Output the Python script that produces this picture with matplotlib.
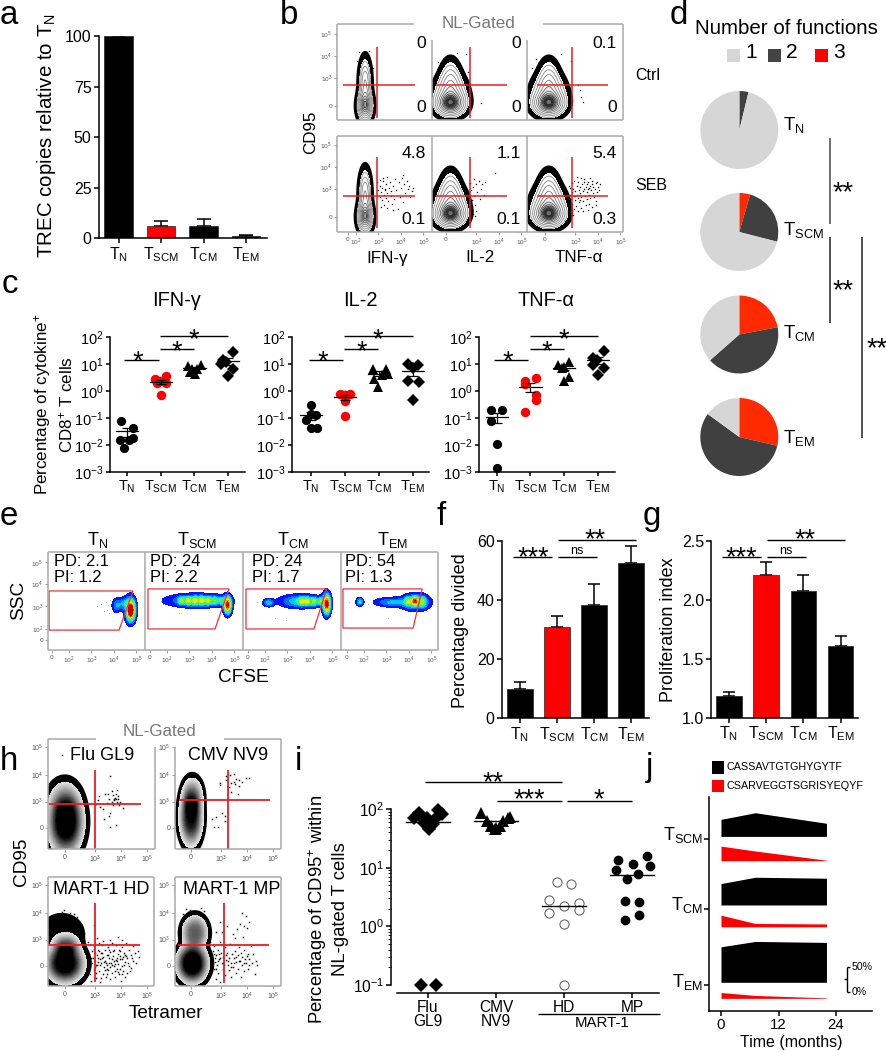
import numpy as np
import matplotlib
matplotlib.use("Agg")
import matplotlib.pyplot as plt
from matplotlib.ticker import NullLocator, FixedLocator, NullFormatter
from matplotlib.patches import Polygon, Rectangle

plt.rcParams.update({
    'font.family': ['Liberation Sans', 'DejaVu Sans'],
    'mathtext.fontset': 'custom', 'mathtext.rm': 'Liberation Sans',
    'mathtext.it': 'Liberation Sans:italic', 'mathtext.bf': 'Liberation Sans:bold',
    'mathtext.default': 'regular',
})
W, H = 887, 1050
PT = 0.72
CATS = ['T$_{N}$', 'T$_{SCM}$', 'T$_{CM}$', 'T$_{EM}$']

# ---- a
a_vals = [100, 6.0, 5.9, 0.9]
a_tops = [100, 8.7, 9.5, 1.5]
# ---- c : values per cytokine, per subset
ifn_tn = [.08, .044, .0149, .0149, .018, .0077]
ifn_scm = [3.5, 2.7, 1.9, 1.9, .7, 2.3]
ifn_cm = [8.2, 8.9, 6.8, 5.1, 4.1, 6.8]
ifn_em = [29, 14.5, 10, 6.8, 3.5, 12]
il2_tn = [.3, .083, .13, .042, .042, .14]
il2_scm = [.75, .8, .7, .42, .116, .7]
il2_cm = [6.4, 6.4, 2.9, 4.4, 1.4, 3.8]
il2_em = [10, 8.9, 7, 2.3, 2.2, .45]
tnf_tn = [.2, .19, .08, .0105, .00135]
tnf_scm = [2.3, 3, 1.8, .7, .45, .17]
tnf_cm = [9, 12, 7.7, 3.3, 2.3, 7.4]
tnf_em = [30, 16, 14, 7.2, 9.5, 3.8]
ifn_means = [.032, 2.2, 7, 13.3]
il2_means = [.125, .6, 4.4, 5.4]
tnf_means = [.11, 1.4, 7.4, 14]
ifn_se = [.012, .45, 1.0, 4]
il2_se = [.04, .13, .9, 1.8]
tnf_se = [.045, .5, 1.5, 4]
# x spread of the swarm, in category units
ifn_off = [[-.17, .17, -.2, .05, .17, -.08], [.15, -.17, -.12, .15, 0, 0],
           [-.2, .2, .07, -.13, .02, -.08], [.14, -.14, -.2, .15, 0, -.05]]
il2_off = [[0, -.16, .16, 0, .17, 0], [-.15, .15, 0, 0, 0, 0],
           [-.17, .2, -.15, .25, -.03, .1], [-.15, .14, 0, -.15, .17, 0]]
tnf_off = [[-.17, .17, -.17, 0, 0], [-.16, .18, -.16, .18, .18, -.16],
           [-.17, .16, 0, .16, 0, -.07], [.17, -.13, -.03, .17, -.15, 0]]
# ---- d
pie_names = CATS
pie_tn = [0.3, 3.5, 96.2]
pie_scm = [4.5, 24.5, 71]
pie_cm = [22, 41.5, 36.5]
pie_em = [28.6, 56.4, 15]
pie_levels = ['3', '2', '1']
# ---- f, g
f_vals = [9.8, 30.8, 38.3, 52.3]
f_tops = [12.2, 34.4, 45.4, 58.3]
g_vals = [1.18, 2.21, 2.07, 1.61]
g_tops = [1.22, 2.32, 2.21, 1.69]
# ---- i
i_flu = [85, 70, 58, 46, 56, 70, 95, 83, 70, 68, .1, .1]
i_flu_off = [-.13, -.21, -.06, .01, .08, -.02, .15, .21, -.09, .1, -.11, .12]
i_cmv = [85, 70, 62, 62, 52, 52, 47, 46, 72]
i_cmv_off = [-.22, .18, -.13, .11, -.08, .06, 0, -.01, .2]
i_hd = [5.8, 5.2, 2.8, 2.5, 2.2, 1.7, 1.9, 1.1, .1]
i_hd_off = [-.11, .11, -.22, .22, 0, -.22, .22, 0, 0]
i_mp = [13.5, 16, 11.7, 9, 10.5, 7.7, 6.4, 2.7, 2.6, 1.55, 1.3]
i_mp_off = [-.21, .22, .01, -.24, .26, .09, -.07, -.1, .11, .11, -.1]
i_means = [60, 62, 2.2, 7.5]
i_labels = ['Flu\nGL9', 'CMV\nNV9', 'HD', 'MP']
# ---- j
j_months = [0, 7.15, 22]
j_scm_k = [35, 48.6, 27]
j_scm_r = [30, 20, 1]
j_cm_k = [44, 57, 55]
j_cm_r = [24, 7, 6]
j_em_k = [73, 84, 82]
j_em_r = [12, 6, 1]
j_seq = ['CASSAVTGTGHYGYTF', 'CSARVEGGTSGRISYEQYF']
# ---- flow cytometry: density peaks (u, v, su, sv, amp) and event dots, in display decades
NARROW = [(.76, 0.0, .19, .38, 1), (.76, 1.05, .16, .62, .55)]
WIDE2 = [(.2, 0.1, .37, .3, 1), (.2, .55, .42, .5, .5), (.2, 1.2, .27, .55, .3)]
WIDE3 = [(.17, 0.1, .39, .3, 1), (.17, .55, .44, .5, .5), (.17, 1.2, .28, .55, .3)]
B_GATE_X = [1.29, 1.07, 1.2]
B_GATE_Y = .93
B_H_RANGE = [(-.22, 2.98), (-.44, 2.71), (-.36, 2.8)]
b_numbers = [['0', '0', '0.1'], ['0', '0', '0'], ['4.8', '1.1', '5.4'], ['0.1', '0.1', '0.3']]
DOT_CTRL = [[(.5, 2.4), (.95, 2.45), (1.1, 1.7), (.4, 2.0)],
            [(1.55, .12), (.9, 2.3), (-.35, 1.95), (.5, 2.35), (1.0, 1.5)],
            [(1.45, .95), (1.55, .72), (1.6, .42), (1.7, .2), (1.15, 2.0), (.7, 2.3), (-.4, 2.1), (-.6, 1.7)]]
DOT_SEB1 = [(1.3, 1.55), (1.35, 1.2), (1.4, .9), (1.42, 1.4), (1.47, 1.1), (1.5, .75), (1.52, 1.3), (1.55, 1.6),
            (1.58, 1.0), (1.6, .55), (1.63, 1.25), (1.67, .85), (1.7, 1.45), (1.72, 1.05), (1.75, .4), (1.78, .7),
            (1.8, 1.3), (1.85, 1.55), (1.9, .95), (1.93, 1.15), (1.97, .6), (2.0, 1.4), (2.05, .8), (2.1, 1.7),
            (2.15, 1.2), (2.2, .35), (2.25, 1.55), (2.3, .9), (2.35, 1.3), (2.4, 1.75), (2.45, .65), (2.5, 1.45),
            (2.55, 1.05), (2.6, 1.6), (2.65, 1.25), (2.7, 1.4), (2.75, .9), (2.85, 1.15), (2.9, 1.3), (2.45, 1.85),
            (1.45, .45), (1.55, 1.75), (1.75, 1.8), (2.0, .3), (1.65, 1.2), (1.4, 1.65)]
DOT_SEB2 = [(1.05, 1.5), (1.1, 1.2), (1.15, .75), (1.2, 1.35), (1.25, .95), (1.3, .55), (1.15, .3), (1.2, .15),
            (1.3, .05), (1.35, .25), (1.4, 1.1), (1.45, 1.6), (1.5, .8), (1.55, 1.25), (1.6, 1.45), (1.7, 1.0),
            (1.75, 1.55), (2.2, 1.95), (1.25, 1.7), (1.35, 1.45)]
DOT_SEB3 = [(1.1, 1.0), (1.12, 1.3), (1.15, .8), (1.18, 1.5), (1.2, 1.1), (1.22, .6), (1.25, 1.25), (1.28, .95),
            (1.3, 1.6), (1.32, .75), (1.35, 1.15), (1.38, .5), (1.4, 1.4), (1.42, 1.0), (1.45, .85), (1.47, 1.55),
            (1.5, 1.2), (1.52, .65), (1.55, 1.35), (1.57, 1.05), (1.6, .4), (1.62, .9), (1.65, 1.45), (1.67, 1.15),
            (1.7, .7), (1.72, 1.7), (1.75, 1.25), (1.77, .95), (1.8, .55), (1.82, 1.35), (1.85, 1.1), (1.87, .8),
            (1.9, 1.55), (1.92, 1.25), (1.95, .6), (1.97, 1.0), (2.0, 1.4), (2.02, .85), (2.05, 1.2), (2.08, 1.6),
            (2.1, .45), (2.12, 1.05), (2.15, 1.35), (2.18, .9), (2.2, 1.25), (2.25, 1.5), (2.28, .7), (2.3, 1.1),
            (2.35, 1.35), (2.4, 1.2), (2.45, 1.45), (2.0, 1.75), (1.6, 1.75), (1.3, .35), (1.45, .25), (1.7, .25),
            (1.9, .3), (2.25, .55), (1.4, 1.8), (1.15, .2), (1.25, .1), (1.05, 1.4), (1.08, .55), (1.55, .75),
            (1.75, 1.55), (1.85, 1.45), (1.95, 1.3), (2.1, 1.45), (2.3, 1.55), (1.35, .95)]
# e
E_ZERO = [52, 150, 248, 347]
E_GATES = [[(-.13, 2.18), (3.6, 2.18), (2.98, .44), (-.13, .44)], [(-.09, 2.27), (3.51, 2.27), (2.89, .49), (-.09, .49)],
           [(-.09, 2.27), (3.5, 2.27), (2.93, .49), (-.09, .49)], [(-.18, 2.27), (3.34, 2.27), (2.94, .53), (-.18, .53)]]
E_PEAKS = [
    [(3.5, 1.3, .11, .27, .95), (3.48, 1.4, .15, .33, .25), (2.87, 1.52, .12, .18, .16), (3.2, 1.62, .2, .16, .2)],
    [(2.1, 1.75, .78, .17, .3), (1.41, 1.75, .09, .11, .36), (1.7, 1.75, .09, .11, .38), (2.0, 1.75, .09, .11, .38),
     (2.3, 1.75, .09, .11, .38), (2.59, 1.75, .09, .11, .36), (2.89, 1.75, .09, .11, .3), (3.19, 1.75, .09, .11, .3),
     (3.45, 1.55, .1, .23, .9)],
    [(.92, 1.66, .14, .1, .25), (2.35, 1.72, .55, .17, .3), (2.39, 1.72, .09, .11, .34), (2.63, 1.72, .09, .11, .38),
     (2.93, 1.72, .09, .11, .38), (3.23, 1.72, .09, .11, .38), (3.5, 1.6, .1, .27, .95)],
    [(.57, 1.69, .09, .1, .3), (3.05, 1.68, .38, .21, .3), (2.0, 1.68, .45, .12, .22), (2.72, 1.72, .1, .13, .33),
     (3.02, 1.74, .09, .13, .62), (3.36, 1.7, .1, .15, .35)],
]
E_GREY = [[(2.0, 1.5), (2.2, 1.6), (2.4, 1.7), (2.45, 1.35), (2.5, 1.55), (2.55, 1.2), (2.6, 1.8), (2.3, 1.3)],
          [(.5, 1.75), (.6, 1.6), (1.3, 1.2), (3.0, .95)], [(.4, 1.7), (1.2, 1.0), (1.7, .9)], [(.1, 1.7), (.95, 1.6), (1.8, 1.0)]]
e_titles = CATS
e_text = [('PD: 2.1', 'PI: 1.2'), ('PD: 24', 'PI: 2.2'), ('PD: 24', 'PI: 1.7'), ('PD: 54', 'PI: 1.3')]
# h
H_FLU = [(.03, .25, .44, .8, 1), (-.05, 1.1, .42, .5, .1)]
H_CMV = [(0, .42, .28, .68, 1), (.05, 1.15, .26, .48, .45)]
H_HD = [(0, .1, .48, .48, 1), (.05, .75, .34, .28, .45), (-.12, 1.2, .58, .52, .06)]
H_MP = [(.05, .1, .39, .48, 1), (.15, 1.25, .32, .42, .5)]
H_DOTS_FLU = [(-.12, 2.75), (1.2, .9), (1.3, 1.2), (1.45, .7), (1.55, 1.3), (1.6, .95), (1.7, 1.1), (1.75, .55), (1.8, 1.4),
              (1.85, 1.25), (1.9, 1.05), (1.92, 1.15), (1.95, 1.1), (1.98, 1.3), (2.0, 1.45), (2.02, 1.1), (2.05, 1.2),
              (2.08, .85), (2.1, 1.0), (1.85, .85), (1.7, .45), (1.5, .35), (1.35, .8), (1.28, 1.05), (1.75, .05),
              (1.95, .1), (1.72, 1.98), (1.65, 1.3), (1.88, 1.1), (2.0, 1.0), (1.8, 1.0), (1.6, -.85), (2.25, .75)]
H_DOTS_CMV = [(1.1, 1.7), (1.35, 1.95), (1.5, 2.0), (1.35, 1.8), (1.45, 1.55), (1.55, 1.7), (1.65, 1.75), (1.75, 1.85),
              (1.85, 1.8), (1.95, 1.75), (2.1, 1.9), (1.85, 1.6), (1.7, 1.65), (1.55, 1.35), (1.8, 1.3), (1.2, .55),
              (1.3, .45), (1.3, .25), (.95, .42), (.9, .02), (1.02, .02), (.82, .35), (1.1, 1.62), (1.65, 2.05), (2.25, 1.9)]
H_DOTS_HD = [(.9, .9), (1.0, .3), (1.05, .55), (1.1, -.1), (1.12, .75), (1.15, .2), (1.2, -.45), (1.22, .4), (1.25, .05),
             (1.28, .62), (1.3, -.2), (1.33, .25), (1.35, -.6), (1.38, .48), (1.4, .12), (1.42, .8), (1.45, -.3), (1.47, .35),
             (1.5, -.05), (1.52, .6), (1.55, .2), (1.57, -.4), (1.6, .42), (1.62, .05), (1.65, .72), (1.67, -.15), (1.7, .3),
             (1.72, -.5), (1.75, .52), (1.77, .12), (1.8, .88), (1.82, -.25), (1.85, .38), (1.87, 0), (1.9, .62), (1.92, -.42),
             (1.95, .22), (1.97, .78), (2.0, -.1), (2.02, .45), (2.05, .08), (2.08, -.3), (2.1, .55), (2.12, .25), (2.15, -.55),
             (2.18, .7), (2.2, 0), (2.22, .35), (2.25, -.18), (2.28, .5), (2.3, .15), (2.35, .85), (2.38, -.28), (2.4, .3),
             (2.45, .62), (2.48, 0), (2.52, .42), (2.55, -.08), (2.6, .75), (2.62, .2), (2.7, .5), (2.75, .1), (2.8, .55),
             (2.85, .35), (1.1, 1.55), (1.25, 1.05), (1.45, .95), (1.75, 1.0), (2.05, 1.1), (2.2, .98), (.95, -.3), (1.0, -.55),
             (1.02, .1), (1.15, .48), (1.3, .85), (1.4, -.45), (1.6, -.3), (1.68, .1), (1.9, .18), (2.02, -.22), (2.3, -.42),
             (1.08, .32), (1.18, .05), (1.27, .3), (1.36, .02), (1.44, .5), (1.53, -.15), (1.59, .1), (1.66, .42), (1.73, -.05),
             (1.79, .25), (1.86, .55), (1.93, .08), (1.99, .32), (2.07, .6), (2.13, -.1), (2.19, .28), (2.27, .05), (2.34, .38),
             (1.11, .65), (1.21, -.25), (1.31, .55), (1.41, .3), (1.51, .15), (1.61, -.12), (1.71, .62), (1.81, .05), (1.91, -.2),
             (2.01, .18), (2.11, .38), (2.21, -.3), (2.31, .42), (2.41, .1), (2.51, -.2), (2.59, .3), (1.16, -.05), (1.26, .15)]
H_DOTS_MP = [(.75, .9), (.8, .3), (.85, .55), (.88, -.1), (.9, .75), (.92, .15), (.95, -.5), (.97, .42), (1.0, .02),
             (1.02, .62), (1.05, -.25), (1.08, .25), (1.1, .9), (1.12, -.6), (1.15, .48), (1.18, .12), (1.2, 1.3), (1.22, -.1),
             (1.25, .35), (1.28, .02), (1.3, .7), (1.32, -.35), (1.35, .22), (1.38, .5), (1.4, 1.5), (1.42, .05), (1.45, -.15),
             (1.48, .32), (1.5, .82), (1.52, -.42), (1.55, .12), (1.58, .45), (1.6, 1.2), (1.62, -.05), (1.65, .3), (1.68, 1.05),
             (1.7, .55), (1.72, -.28), (1.75, .15), (1.78, 1.4), (1.8, .4), (1.82, -.12), (1.85, .7), (1.88, .2), (1.9, 1.6),
             (1.92, -.4), (1.95, .05), (1.98, .35), (2.0, 1.1), (2.02, .6), (2.05, -.2), (2.08, .28), (2.1, 1.9), (2.12, .12),
             (2.15, 1.45), (2.18, .45), (2.2, -.1), (2.22, 1.65), (2.25, .25), (2.3, .75), (2.35, .1), (2.4, .45), (2.45, -.3),
             (2.5, .2), (2.55, .05), (1.95, 2.0), (2.05, 1.5), (.4, 2.2), (-.2, 2.15), (.5, 2.08), (.95, 1.3), (1.1, 1.65),
             (.82, .1), (.93, .3), (1.03, .18), (1.13, .3), (1.24, .12), (1.34, .42), (1.44, .2), (1.54, -.02), (1.64, .12),
             (1.74, .35), (1.84, .2), (1.94, .5), (2.04, .1), (2.14, .38), (2.24, .02), (.87, .45), (.98, -.1), (1.07, .45)]
H_EDGE = [(-.3, 1.95), (-.1, 2.05), (.2, 2.0), (.45, 1.85), (.6, 1.6), (.75, 1.25), (-.05, 2.12), (.35, 1.95)]
h_titles = ['Flu GL9', 'CMV NV9', 'MART-1 HD', 'MART-1 MP']

fig = plt.figure(figsize=(W / 100, H / 100), dpi=100)
ov = fig.add_axes([0, 0, 1, 1], zorder=20)
ov.set_xlim(0, W); ov.set_ylim(H, 0); ov.axis('off'); ov.patch.set_alpha(0)


def T(x, y, s, px, ha='center', va='center', **kw):
    return ov.text(x, y, s, fontsize=px * PT, ha=ha, va=va, **kw)


def L(x0, y0, x1, y1, c='k', lw=1.0, **kw):
    ov.plot([x0, x1], [y0, y1], color=c, lw=lw, solid_capstyle='butt', **kw)


def stars(x, y, n, px=27):
    T(x, y + px * .58 - 1, '*' * n, px, va='baseline')


def pxax(x0, x1, y0, y1):
    return fig.add_axes([x0 / W, 1 - y1 / H, (x1 - x0) / W, (y1 - y0) / H])


def clean(ax, lab_px, lw=1.1, ticklen=3.6):
    ax.spines['top'].set_visible(False); ax.spines['right'].set_visible(False)
    for s in ('left', 'bottom'):
        ax.spines[s].set_linewidth(lw)
    ax.tick_params(axis='both', labelsize=lab_px * PT, width=lw, length=ticklen, pad=1.5, colors='k')
    ax.patch.set_alpha(0)


def bars(x0, x1, y0, y1, c0, sp, vals, tops, ylim, yt, ytl, lab_px, cap, width):
    ax = pxax(x0, x1, y0, y1)
    ax.set_xlim((x0 - c0) / sp, (x1 - c0) / sp); ax.set_ylim(*ylim)
    xs = np.arange(len(vals))
    cols = ['k', '#ff0000', 'k', 'k']
    ax.bar(xs, vals, width=width, color=cols, edgecolor='#222222', linewidth=.5, zorder=2)
    ax.errorbar(xs, vals, yerr=[np.zeros(4), np.array(tops) - np.array(vals)], fmt='none', ecolor='k',
                elinewidth=1.1, capsize=cap, capthick=1.1, zorder=1)
    ax.set_xticks(xs); ax.set_xticklabels(CATS)
    ax.set_yticks(yt); ax.set_yticklabels(ytl)
    clean(ax, lab_px)
    return ax


# ===== a
bars(98.7, 267, 36, 238.3, 118.7, 42.4, a_vals, a_tops, (0, 100), [0, 25, 50, 75, 100],
     ['0', '25', '50', '75', '100'], 16, 5, .67)
T(47, 136, 'TREC copies relative to T$_{N}$', 20.5, rotation=90)

# ===== f, g
bars(501.7, 649, 540.7, 718.3, 520, 37, f_vals, f_tops, (0, 60), [0, 20, 40, 60], ['0', '20', '40', '60'], 16, 4.6, .69)
T(461, 631, 'Percentage divided', 18, rotation=90)
L(513, 557, 552, 557); stars(533, 551, 3)
L(558, 557, 597, 557); T(577, 551, 'ns', 12.5)
L(558, 540, 636, 540); stars(595, 533, 2)

bars(711, 858, 540.7, 717.7, 729, 37.2, np.array(g_vals) , g_tops, (1.0, 2.5), [1, 1.5, 2, 2.5],
     ['1.0', '1.5', '2.0', '2.5'], 16, 4.6, .69)
T(669, 630, 'Proliferation index', 18, rotation=90)
L(722, 557, 761, 557); stars(741, 551, 3)
L(767, 557, 806, 557); T(786, 551, 'ns', 12.5)
L(767, 540, 845, 540); stars(805, 533, 2)


# ===== c
def swarm(x0, x1, c0, sp, groups, offs, means, se):
    ax = pxax(x0, x1, 337, 472)
    ax.set_yscale('log'); ax.set_ylim(1e-3, 1e2)
    ax.set_xlim((x0 - c0) / sp, (x1 - c0) / sp)
    styles = [('o', 'k', 6.6), ('o', '#ff0000', 6.8), ('^', 'k', 7.4), ('D', 'k', 5.7)]
    for i, (vals, off) in enumerate(zip(groups, offs)):
        m, c, s = styles[i]
        ax.plot(i + np.array(off), vals, m, color=c, ms=s, mew=0, ls='none', clip_on=False, zorder=3)
        ax.plot([i - .33, i + .33], [means[i]] * 2, color='k', lw=.9, zorder=4)
        ax.errorbar([i], [means[i]], yerr=[[se[i]], [se[i]]], fmt='none', ecolor='k', elinewidth=.9, capsize=3.4,
                    capthick=.9, zorder=4)
    ax.set_xticks(range(4)); ax.set_xticklabels(CATS)
    ax.set_yticks([1e-3, 1e-2, 1e-1, 1, 10, 100])
    ax.set_yticklabels(['$10^{-3}$', '$10^{-2}$', '$10^{-1}$', '$10^{0}$', '$10^{1}$', '$10^{2}$'])
    ax.yaxis.set_minor_locator(NullLocator())
    clean(ax, 14.5, ticklen=3.2)
    return ax


swarm(110, 245, 127, 33.7, [ifn_tn, ifn_scm, ifn_cm, ifn_em], ifn_off, ifn_means, ifn_se)
swarm(292, 429, 311, 34, [il2_tn, il2_scm, il2_cm, il2_em], il2_off, il2_means, il2_se)
swarm(479.3, 615, 496.7, 33.7, [tnf_tn, tnf_scm, tnf_cm, tnf_em], tnf_off, tnf_means, tnf_se)
for (a, b_, c, d, s1, s2, s3) in [(124, 159, 160, 228, 138, 177, 194), (309, 343, 344, 413, 323, 362, 378),
                                  (494, 528, 530, 598, 508, 547, 564)]:
    L(a, 360, b_, 360); stars(s1, 355, 1)
    L(c, 349, (c + d) / 2, 349); stars(s2, 345, 1)
    L(c, 336, d, 336); stars(s3, 333, 1)
T(177, 301, 'IFN-γ', 20); T(360, 301, 'IL-2', 20); T(546, 301, 'TNF-α', 20)
T(43, 404, 'Percentage of cytokine$^{+}$', 17, rotation=90)
T(66, 405, 'CD8$^{+}$ T cells', 17, rotation=90)

# ===== d
PIE_COL = {'1': '#d6d6d6', '2': '#404040', '3': '#ff2a00'}
for (cy, vals, name, by) in [(130, pie_tn, CATS[0], 130), (232, pie_scm, CATS[1], 235),
                             (334.5, pie_cm, CATS[2], 338), (437, pie_em, CATS[3], 443)]:
    ax = pxax(739.3 - 39, 739.3 + 39, cy - 39, cy + 39)
    ax.pie(vals, colors=[PIE_COL[k] for k in pie_levels], startangle=90, counterclock=False, radius=1,
           wedgeprops=dict(linewidth=0))
    ax.set_xlim(-1, 1); ax.set_ylim(-1, 1)
    T(783, by, name, 18.5, ha='left', va='baseline')
T(786, 29, 'Number of functions', 20.5)
for (sx, tx, k, c) in [(727, 745, '1', PIE_COL['1']), (768, 786, '2', '#444444'), (815, 833, '3', '#ff0000')]:
    ov.add_patch(Rectangle((sx, 49), 13, 13, color=c, lw=0))
    T(tx, 53, k, 21, ha='left')
L(830, 138, 830, 224, c='#555555', lw=1.2); stars(843, 186, 2)
L(830, 237, 830, 323, c='#333333', lw=1.2); stars(843, 284, 2)
L(862, 237, 862, 438, c='#333333', lw=1.2); stars(877, 342, 2)


# ===== flow helpers
def density(U, V, peaks, p=1.0):
    D = np.zeros_like(U)
    for (u, v, su, sv, amp) in peaks:
        r2 = ((U - u) / su) ** 2 + ((V - v) / sv) ** 2
        D += amp * np.exp(-.5 * r2 ** p)
    return D


def fax(x0, x1, y0, y1, zx, zy, dx, dy):
    ax = pxax(x0, x1, y0, y1)
    ax.set_xlim((x0 - zx) / dx, (x1 - zx) / dx); ax.set_ylim((zy - y1) / dy, (zy - y0) / dy)
    for s in ax.spines.values():
        s.set_visible(False)
    ax.patch.set_alpha(0)
    return ax


def grid(ax, n=260):
    xa = np.linspace(*ax.get_xlim(), n); ya = np.linspace(*ax.get_ylim(), n)
    return np.meshgrid(xa, ya)


def decade_minor(ticks):
    out = []
    for t in ticks:
        out += list(t + np.log10(np.arange(2, 10)))
    return out


def ticks(ax, xt=None, xl=None, yt=None, yl=None, px=7):
    ax.tick_params(axis='both', which='major', length=2, width=.5, color='#777777', labelcolor='#555555',
                   labelsize=px * PT, pad=1.5)
    ax.tick_params(axis='both', which='minor', length=1, width=.35, color='#888888')
    if xt is not None:
        ax.set_xticks(xt); ax.set_xticklabels(xl)
        ax.xaxis.set_minor_locator(FixedLocator([m for m in decade_minor(xt[-4:-1]) if m < ax.get_xlim()[1]]))
    else:
        ax.set_xticks([])
    if yt is not None:
        ax.set_yticks(yt); ax.set_yticklabels(yl)
        ax.yaxis.set_minor_locator(FixedLocator([m for m in decade_minor(yt[-3:-1]) if m < ax.get_ylim()[1]]))
    else:
        ax.set_yticks([])


def dots(ax, pts, ms=1.3, c='k'):
    if len(pts):
        xs, ys = zip(*pts)
        ax.plot(xs, ys, 's', ms=ms * PT, color=c, mew=0, ls='none', zorder=5)


GATE = '#ee1c25'


def cross(ax, xv, yh, xr, yr, lw=1.1):
    ax.plot(xr, [yh, yh], color=GATE, lw=lw, zorder=7, solid_capstyle='butt')
    ax.plot([xv, xv], yr, color=GATE, lw=lw, zorder=7, solid_capstyle='butt')


# ===== b
B_COL = [(337, 432, 348), (432, 527, 446), (527, 623, 545)]
B_ROW = [(24, 120, 106, (-.53, 2.62)), (136, 232, 217, (-.49, 2.67))]
B_SHAPES = [NARROW, WIDE2, WIDE3]
B_DOTS = [DOT_CTRL, [DOT_SEB1, DOT_SEB2, DOT_SEB3]]
GXT = [0, 1.35, 2.35, 3.35]
GXL = ['0', '$10^{3}$', '$10^{4}$', '$10^{5}$']
GYT = [0, 1.24, 2.22, 3.22]
GYL = ['0', '$10^{3}$', '$10^{4}$', '$10^{5}$']
for r, (y0, y1, zy, vr) in enumerate(B_ROW):
    for c, (x0, x1, zx) in enumerate(B_COL):
        ax = fax(x0, x1, y0, y1, zx, zy, 22.5, 22.5)
        U, V = grid(ax)
        D = density(U, V, B_SHAPES[c])
        ax.contourf(U, V, D, [.05, .12], colors='k', zorder=1)
        ax.contour(U, V, D, [.05], colors='k', linewidths=1.3, zorder=1)
        ax.contourf(U, V, D, [.7, .95, 1.1, 1.22, 3], colors=['#ececec', '#d0d0d0', '#a8a8a8', '#6e6e6e'], zorder=1)
        ax.contour(U, V, D, [.18, .28, .4, .55, .7, .85, .98, 1.08, 1.16, 1.23, 1.29, 1.33],
                   colors=['#888888', '#888888', '#808080', '#777777', '#666666', '#555555', '#444444', '#333333',
                           '#333333', '#222222', '#222222', '#222222'], linewidths=.6, zorder=2)
        dots(ax, B_DOTS[r][c])
        cross(ax, B_GATE_X[c], B_GATE_Y, B_H_RANGE[c], vr)
        if c == 0:
            xt, xl = ([0, .35] + GXT[1:], ['0', '$10^{2}$'] + GXL[1:])
        else:
            xt, xl = GXT, GXL
        ticks(ax, xt if r == 1 else None, xl if r == 1 else None, GYT if c == 0 else None, GYL if c == 0 else None, 6.5)
        tx = [426, 521, 617][c]
        T(tx, [43, 153][r], b_numbers[2 * r][c], 17.5, ha='right')
        T(tx, [108, 220][r], b_numbers[2 * r + 1][c], 17.5, ha='right')
G = '#aaaaaa'
L(337, 24, 414, 24, G, 1.1); L(543, 24, 623, 24, G, 1.1)
L(337, 24, 337, 120, G, 1.1); L(623, 24, 623, 120, G, 1.1); L(337, 120, 623, 120, G, 1.1)
L(432, 40, 432, 120, G, 1.1); L(527, 40, 527, 120, G, 1.1)
for seg in [(337, 136, 623, 136), (337, 232, 623, 232), (337, 136, 337, 232), (623, 136, 623, 232),
            (432, 136, 432, 232), (527, 136, 527, 232)]:
    L(*seg, G, 1.1)
T(479, 23, 'NL-Gated', 17, color='#777777')
T(635, 76, 'Ctrl', 16, ha='left'); T(635, 186, 'SEB', 16, ha='left')
T(311, 132, 'CD95', 17, rotation=90)
T(387, 258, 'IFN-γ', 17); T(480, 258, 'IL-2', 17); T(579, 258, 'TNF-α', 17)

# ===== e
E_LEVELS = [.04, .12, .2, .28, .38, .48, .58, .68, .8, .9, 3]
E_COLS = ['#0a14ff', '#0070ff', '#00c8ff', '#20f0c0', '#40f060', '#a0f020', '#f8e800', '#ff9000', '#ff2000', '#c80000']
E_COLX = [(48, 145), (145, 243), (243, 341), (341, 438)]
for i, (x0, x1) in enumerate(E_COLX):
    ax = fax(x0, x1, 552, 650, E_ZERO[i], 640, 22.5, 22.5)
    U, V = grid(ax, 320)
    ax.contourf(U, V, density(U, V, E_PEAKS[i]), E_LEVELS, colors=E_COLS, zorder=2)
    dots(ax, E_GREY[i], ms=1.0, c='#aaaaaa')
    ax.add_patch(Polygon(E_GATES[i], closed=True, fill=False, edgecolor='#f0303a', lw=.9, zorder=6))
    ticks(ax, [0, .75, 1.75, 2.75, 3.75], ['0', '$10^{2}$', '$10^{3}$', '$10^{4}$', '$10^{5}$'],
          [0, .5, 1.5, 2.5, 3.45] if i == 0 else None,
          ['0', '$10^{2}$', '$10^{3}$', '$10^{4}$', '$10^{5}$'] if i == 0 else None, 6.5)
    T([54, 150, 252, 345][i], 562, e_text[i][0], 16.5, ha='left')
    T([54, 150, 252, 345][i], 577, e_text[i][1], 16.5, ha='left')
    T([98, 197, 293, 392][i], 540, e_titles[i], 18)
for seg in [(48, 552, 438, 552), (48, 650, 438, 650), (48, 552, 48, 650), (438, 552, 438, 650),
            (145, 552, 145, 650), (243, 552, 243, 650), (341, 552, 341, 650)]:
    L(*seg, G, 1.1)
T(19, 600, 'SSC', 19, rotation=90); T(243, 678, 'CFSE', 19)

# ===== h
H_AX = [(48, 155, 739, 849, 65, 828), (175, 281, 739, 849, 191, 828), (48, 154, 877, 986, 65, 966), (175, 281, 877, 986, 191, 966)]
H_PK = [H_FLU, H_CMV, H_HD, H_MP]
H_DOTS = [H_DOTS_FLU, H_DOTS_CMV, H_DOTS_HD, H_DOTS_MP]
H_CROSS = [((95 - 65) / 26, (828 - 804) / 26.5, (-.62, 2.92), (-.79, 2.19)),
           ((228 - 191) / 26, (828 - 800) / 26.5, (-.46, 3.04), (-.79, 2.19)),
           ((95 - 65) / 26, (966 - 945) / 26.5, (-.62, 2.88), (-.6, 2.38)),
           ((224 - 191) / 26, (966 - 945) / 26.5, (-.5, 3.0), (-.64, 2.38))]
for i, (x0, x1, y0, y1, zx, zy) in enumerate(H_AX):
    ax = fax(x0, x1, y0, y1, zx, zy, 26, 26.5)
    U, V = grid(ax, 300)
    D = density(U, V, H_PK[i], p=1.5)
    ax.contourf(U, V, D, [.012, .08], colors='k', zorder=1)
    ax.contour(U, V, D, [.012], colors='k', linewidths=1.4, zorder=1)
    lev = np.linspace(.08, max(D.max(), .5), 30)
    ax.contourf(U, V, D, lev, cmap='gray_r', vmin=-.02, vmax=D.max() * .8, zorder=2)
    dots(ax, H_DOTS[i], ms=1.5)
    if i >= 2:
        dots(ax, H_EDGE, ms=1.5)
    xv, yh, xr, yr = H_CROSS[i]
    cross(ax, xv, yh, xr, yr, lw=1.3)
    ticks(ax, [0, 1.15, 2.15, 3.15], ['0', '$10^{3}$', '$10^{4}$', '$10^{5}$'], [0, 1, 2, 3.05],
          ['0', '$10^{3}$', '$10^{4}$', '$10^{5}$'], 7)
    T([102, 228, 101, 232][i], [755, 755, 890, 890][i], h_titles[i], 18)
for seg in [(48, 739, 96, 739), (224, 739, 281, 739), (48, 739, 48, 849), (48, 849, 155, 849), (155, 747, 155, 849),
            (175, 747, 175, 849), (175, 849, 281, 849), (281, 739, 281, 849),
            (48, 877, 154, 877), (48, 986, 154, 986), (48, 877, 48, 986), (154, 877, 154, 986),
            (175, 877, 281, 877), (175, 986, 281, 986), (175, 877, 175, 986), (281, 877, 281, 986)]:
    L(*seg, G, 1.1)
T(160, 731, 'NL-Gated', 17, color='#777777')
T(22, 862, 'CD95', 19, rotation=90); T(166, 1014, 'Tetramer', 19)

# ===== i
ax = pxax(391, 659, 809, 993)
ax.set_yscale('log')
ax.set_ylim(10 ** (-1 - 8 / 58.7), 100)
ax.set_xlim((391 - 428) / 68, (659 - 428) / 68)
for i, (vals, off, m, fc, ec, s, mw) in enumerate([
        (i_flu, i_flu_off, 'D', 'k', 'k', 6.8, 0), (i_cmv, i_cmv_off, '^', 'k', 'k', 8.5, 0),
        (i_hd, i_hd_off, 'o', 'white', '#555555', 6.6, .7), (i_mp, i_mp_off, 'o', 'k', 'k', 7, 0)]):
    ax.plot(i + np.array(off), vals, m, mfc=fc, mec=ec, ms=s, mew=mw, ls='none', clip_on=False, zorder=3)
    ax.plot([i - .33, i + .33], [i_means[i]] * 2, color='k', lw=1.0, zorder=4)
clean(ax, 15.5)
ax.spines['left'].set_bounds(.1, 100)
ax.spines['bottom'].set_bounds((397 - 428) / 68, (659 - 428) / 68)
ax.set_yticks([.1, 1, 10, 100]); ax.set_yticklabels(['$10^{-1}$', '$10^{0}$', '$10^{1}$', '$10^{2}$'])
ax.yaxis.set_minor_locator(FixedLocator([d * k for d in (.1, 1, 10) for k in range(2, 10)]))
ax.yaxis.set_minor_formatter(NullFormatter())
ax.tick_params(axis='y', which='minor', length=2, width=.6)
ax.set_xticks(range(4)); ax.set_xticklabels(i_labels, linespacing=.95)
T(318, 909, 'Percentage of CD95$^{+}$ within', 18.5, rotation=90)
T(341, 909, 'NL-gated T cells', 18.5, rotation=90)
L(425, 782, 562, 782); stars(493, 776, 2)
L(497, 801, 562, 801); stars(529, 793, 3)
L(567, 801, 632, 801); stars(599, 793, 1)
L(538, 1014, 660, 1014); T(602, 1023, 'MART-1', 15)

# ===== j
ax = pxax(709, 872, 797, 1011)
ax.set_xlim(-2.5, 31.5); ax.set_ylim(0, 440)
for vals, base, col in [(j_scm_k, 359, 'k'), (j_scm_r, 309, '#ff0000'), (j_cm_k, 218, 'k'), (j_cm_r, 173, '#ff0000'),
                        (j_em_k, 59, 'k'), (j_em_r, 26, '#ff0000')]:
    ax.fill_between(j_months, base, base + np.array(vals), color=col, lw=0)
clean(ax, 15)
ax.set_xticks([0, 12, 24]); ax.set_yticks([353, 209, 54]); ax.set_yticklabels(['', '', ''])
T(703, 835, CATS[1], 18, ha='right'); T(703, 905, CATS[2], 18, ha='right'); T(703, 982, CATS[3], 18, ha='right')
T(791, 1042, 'Time (months)', 16)
ov.add_patch(Rectangle((712, 761), 12, 13, color='k', lw=0))
ov.add_patch(Rectangle((712, 780), 12, 12, color='#ff0000', lw=0))
T(727, 767, j_seq[0], 10.7, ha='left'); T(727, 786, j_seq[1], 10.7, ha='left')
L(847, 967, 847, 992); L(847, 967, 850, 967); L(847, 992, 850, 992); L(844, 979, 847, 979)
T(852, 967, '50%', 10.5, ha='left'); T(852, 992, '0%', 10.5, ha='left')

# ===== panel letters
for s, x, y in [('a', 0, 24), ('b', 280, 24), ('c', 2, 293), ('d', 670, 24), ('e', 0, 525), ('f', 437, 525),
                ('g', 643, 525), ('h', 0, 770), ('i', 295, 770), ('j', 646, 776)]:
    T(x, y, s, 33, ha='left', va='baseline')

fig.savefig('out.png', dpi=100)
